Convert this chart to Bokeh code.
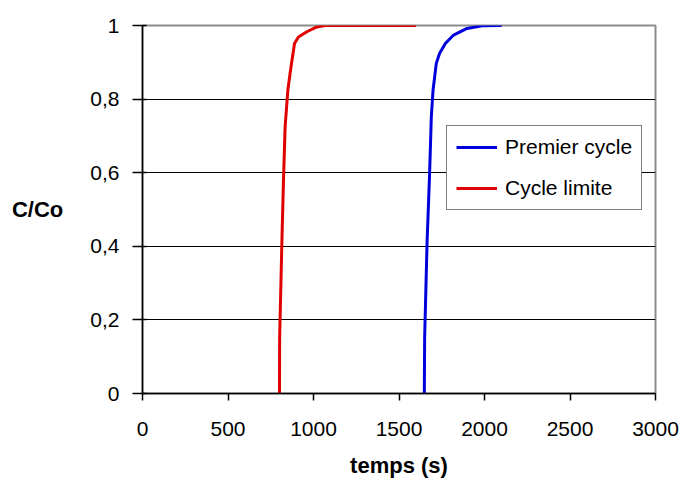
from bokeh.plotting import figure
from bokeh.models import FixedTicker, CustomJSTickFormatter, Legend, LegendItem, Range1d
from bokeh.embed import file_html
from bokeh.resources import INLINE

# Data
premier_t = [1648, 1650, 1664, 1679, 1689, 1699, 1718, 1737, 1771, 1819, 1898, 1986, 2100]
premier_c = [0.0, 0.151, 0.409, 0.598, 0.752, 0.824, 0.897, 0.924, 0.951, 0.974, 0.992, 0.9995, 1.0]

limite_t = [801, 802, 815, 824, 834, 850, 863, 889, 912, 961, 1020, 1068, 1600]
limite_c = [0.0, 0.151, 0.409, 0.571, 0.725, 0.824, 0.870, 0.951, 0.969, 0.983, 0.996, 1.0, 1.0]

x_ticks = [0, 500, 1000, 1500, 2000, 2500, 3000]
y_ticks = [0, 0.2, 0.4, 0.6, 0.8, 1.0]
y_grid = [0.2, 0.4, 0.6, 0.8]

FONT = "Liberation Sans"

p = figure(width=681, height=481, output_backend="svg", toolbar_location=None,
           x_range=Range1d(0, 3000), y_range=Range1d(0, 1),
           min_border_left=142, min_border_right=26, min_border_top=25, min_border_bottom=88)
p.background_fill_color = "white"
p.border_fill_color = "white"
p.outline_line_color = "#8c8c8c"
p.outline_line_width = 2

r_blue = p.line(premier_t, premier_c, line_color="#0000dd", line_width=3)
r_red = p.line(limite_t, limite_c, line_color="#e00000", line_width=3)

# axes
p.xaxis.ticker = FixedTicker(ticks=x_ticks)
p.yaxis.ticker = FixedTicker(ticks=y_ticks)
p.yaxis.formatter = CustomJSTickFormatter(code="return (Math.round(tick*10)/10).toString().replace('.', ',');")
for ax in (p.xaxis[0], p.yaxis[0]):
    ax.axis_line_color = "black"
    ax.axis_line_width = 1.5
    ax.major_tick_line_color = "black"
    ax.major_tick_line_width = 1.5
    ax.minor_tick_line_color = None
    ax.major_label_text_font = FONT
    ax.major_label_text_font_size = "21px"
    ax.major_label_text_color = "black"
    ax.axis_label_text_font = FONT
    ax.axis_label_text_font_size = "22px"
    ax.axis_label_text_font_style = "bold"
    ax.axis_label_text_color = "black"

p.xaxis.axis_label = "temps (s)"
p.xaxis.major_tick_out = 7
p.xaxis.major_tick_in = 0
p.xaxis.major_label_standoff = 21
p.xaxis.axis_label_standoff = 14

p.yaxis.axis_label = "C/Co"
p.yaxis.axis_label_orientation = "horizontal"
p.yaxis.major_tick_out = 10
p.yaxis.major_tick_in = 4
p.yaxis.major_label_standoff = 13
p.yaxis.axis_label_standoff = 24

# grid
p.xgrid.visible = False
p.ygrid.ticker = FixedTicker(ticks=y_grid)
p.ygrid.grid_line_color = "black"
p.ygrid.grid_line_width = 1

legend = Legend(items=[LegendItem(label="Premier cycle", renderers=[r_blue]),
                       LegendItem(label="Cycle limite", renderers=[r_red])],
                location=(304, 183))
legend.border_line_color = "black"
legend.border_line_width = 1
legend.background_fill_color = "white"
legend.background_fill_alpha = 1
legend.label_text_font = FONT
legend.label_text_font_size = "21px"
legend.label_text_color = "black"
legend.glyph_width = 41
legend.glyph_height = 24
legend.label_height = 24
legend.label_standoff = 8
legend.padding = 9
legend.spacing = 17
legend.margin = 0
p.add_layout(legend, "center")

open("out.html", "w").write(file_html(p, INLINE))
